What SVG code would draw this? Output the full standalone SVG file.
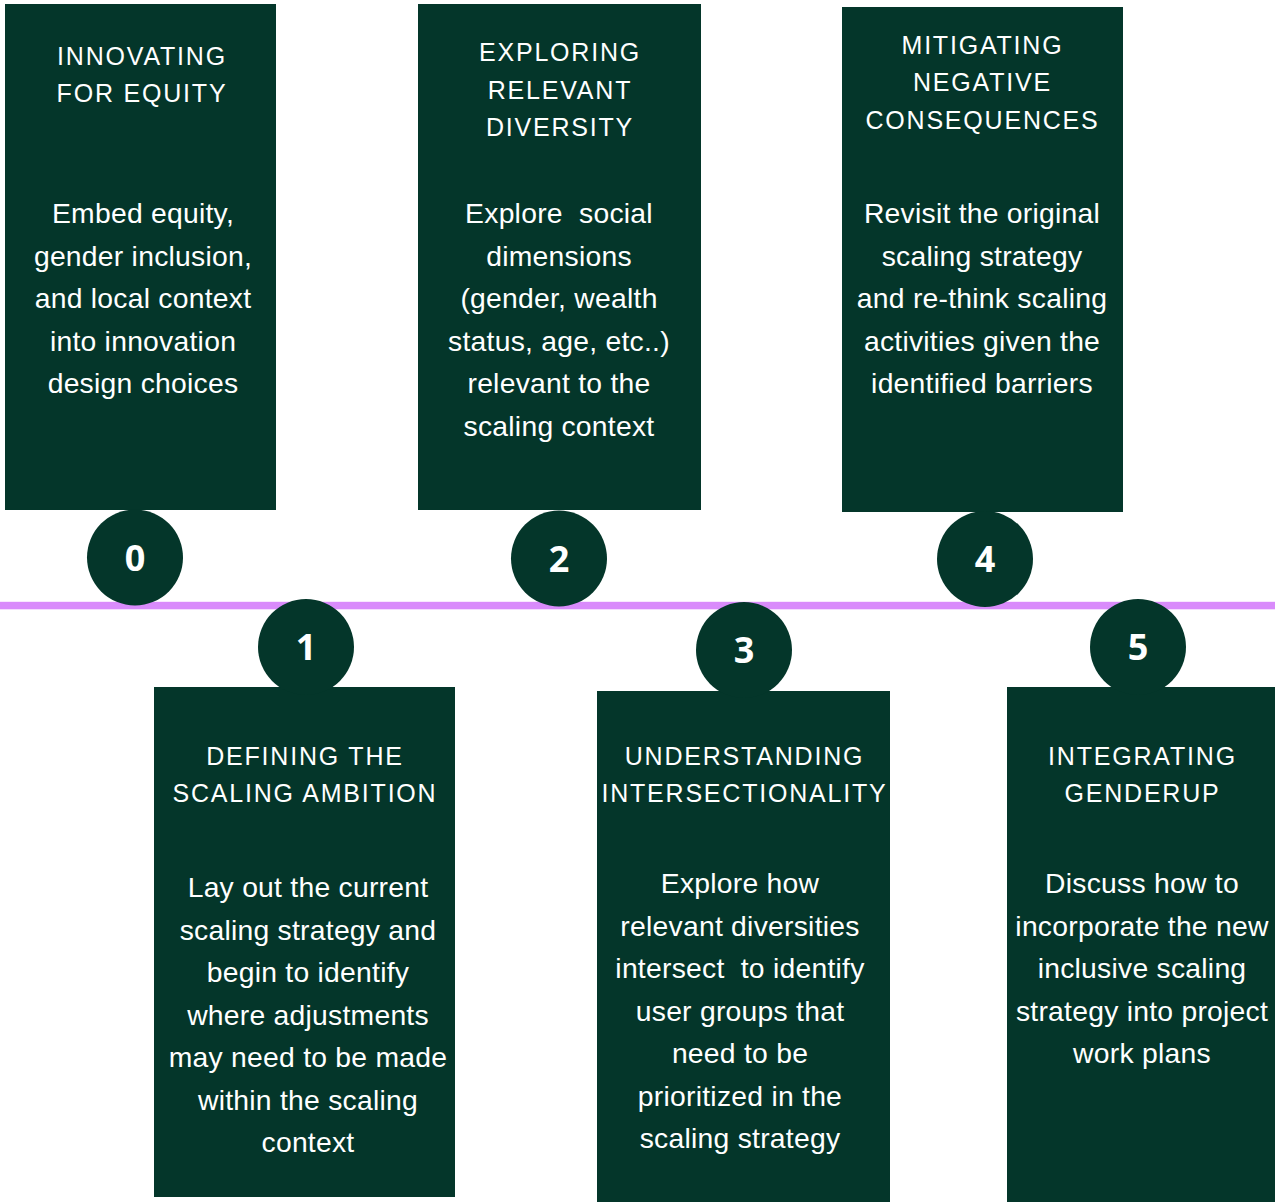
<svg xmlns="http://www.w3.org/2000/svg" width="1275" height="1202" viewBox="0 0 1275 1202">
  <style>
    .card { fill: #04362A; }
    .dot { fill: #04362A; }
    .title { font-family: "Liberation Sans", Arial, sans-serif; font-size: 25px; letter-spacing: 1.8px; fill: #FFFFFF; text-anchor: middle; }
    .body { font-family: "Liberation Sans", Arial, sans-serif; font-size: 28.3px; letter-spacing: 0.25px; fill: #FFFFFF; text-anchor: middle; }
    .num { font-family: "Open Sans", "DejaVu Sans", sans-serif; font-size: 36px; font-weight: 700; fill: #FFFFFF; text-anchor: middle; }
  </style>
  <rect width="1275" height="1202" fill="#FFFFFF"/>

  <!-- cards -->
  <g id="step0-card">
    <rect class="card" x="5" y="4" width="271" height="506"/>
    <text class="title"><tspan x="142" y="65">INNOVATING</tspan><tspan x="142" y="102">FOR EQUITY</tspan></text>
    <text class="body"><tspan x="143" y="223">Embed equity,</tspan><tspan x="143" y="265.5">gender inclusion,</tspan><tspan x="143" y="308">and local context</tspan><tspan x="143" y="350.5">into innovation</tspan><tspan x="143" y="393">design choices</tspan></text>
  </g>

  <g id="step2-card">
    <rect class="card" x="418" y="4" width="283" height="506"/>
    <text class="title"><tspan x="560" y="61">EXPLORING</tspan><tspan x="560" y="99">RELEVANT</tspan><tspan x="560" y="136">DIVERSITY</tspan></text>
    <text class="body" xml:space="preserve"><tspan x="559" y="223">Explore  social</tspan><tspan x="559" y="265.5">dimensions</tspan><tspan x="559" y="308">(gender, wealth</tspan><tspan x="559" y="350.5">status, age, etc..)</tspan><tspan x="559" y="393">relevant to the</tspan><tspan x="559" y="436">scaling context</tspan></text>
  </g>

  <g id="step4-card">
    <rect class="card" x="842" y="7" width="281" height="505"/>
    <text class="title"><tspan x="982.5" y="54">MITIGATING</tspan><tspan x="982.5" y="91">NEGATIVE</tspan><tspan x="982.5" y="129">CONSEQUENCES</tspan></text>
    <text class="body"><tspan x="982" y="223">Revisit the original</tspan><tspan x="982" y="265.5">scaling strategy</tspan><tspan x="982" y="308">and re-think scaling</tspan><tspan x="982" y="350.5">activities given the</tspan><tspan x="982" y="393">identified barriers</tspan></text>
  </g>

  <g id="step1-card">
    <rect class="card" x="154" y="687" width="301" height="510"/>
    <text class="title"><tspan x="305" y="765">DEFINING THE</tspan><tspan x="305" y="802">SCALING AMBITION</tspan></text>
    <text class="body"><tspan x="308" y="897">Lay out the current</tspan><tspan x="308" y="939.5">scaling strategy and</tspan><tspan x="308" y="982">begin to identify</tspan><tspan x="308" y="1024.5">where adjustments</tspan><tspan x="308" y="1067">may need to be made</tspan><tspan x="308" y="1109.5">within the scaling</tspan><tspan x="308" y="1152">context</tspan></text>
  </g>

  <g id="step3-card">
    <rect class="card" x="597" y="691" width="293" height="511"/>
    <text class="title"><tspan x="744.5" y="765">UNDERSTANDING</tspan><tspan x="744.5" y="802">INTERSECTIONALITY</tspan></text>
    <text class="body" xml:space="preserve"><tspan x="740" y="893">Explore how</tspan><tspan x="740" y="935.5">relevant diversities</tspan><tspan x="740" y="978">intersect  to identify</tspan><tspan x="740" y="1020.5">user groups that</tspan><tspan x="740" y="1063">need to be</tspan><tspan x="740" y="1105.5">prioritized in the</tspan><tspan x="740" y="1148">scaling strategy</tspan></text>
  </g>

  <g id="step5-card">
    <rect class="card" x="1007" y="687" width="268" height="515"/>
    <text class="title"><tspan x="1142.5" y="765">INTEGRATING</tspan><tspan x="1142.5" y="802">GENDERUP</tspan></text>
    <text class="body"><tspan x="1142" y="893">Discuss how to</tspan><tspan x="1142" y="935.5">incorporate the new</tspan><tspan x="1142" y="978">inclusive scaling</tspan><tspan x="1142" y="1020.5">strategy into project</tspan><tspan x="1142" y="1063">work plans</tspan></text>
  </g>

  <!-- timeline axis -->
  <g id="connectors">
    <rect x="0" y="601.8" width="1275" height="7.5" fill="#D98BFB"/>
  </g>

  <!-- step markers -->
  <g id="marker0"><circle class="dot" cx="135" cy="557.5" r="48"/><text class="num" x="135" y="570.5">0</text></g>
  <g id="marker1"><circle class="dot" cx="306" cy="647" r="48"/><text class="num" x="306" y="660">1</text></g>
  <g id="marker2"><circle class="dot" cx="559" cy="558.5" r="48"/><text class="num" x="559" y="571.5">2</text></g>
  <g id="marker3"><circle class="dot" cx="744" cy="650" r="48"/><text class="num" x="744" y="663">3</text></g>
  <g id="marker4"><circle class="dot" cx="985" cy="559" r="48"/><text class="num" x="985" y="572">4</text></g>
  <g id="marker5"><circle class="dot" cx="1138" cy="647" r="48"/><text class="num" x="1138" y="660">5</text></g>
</svg>
